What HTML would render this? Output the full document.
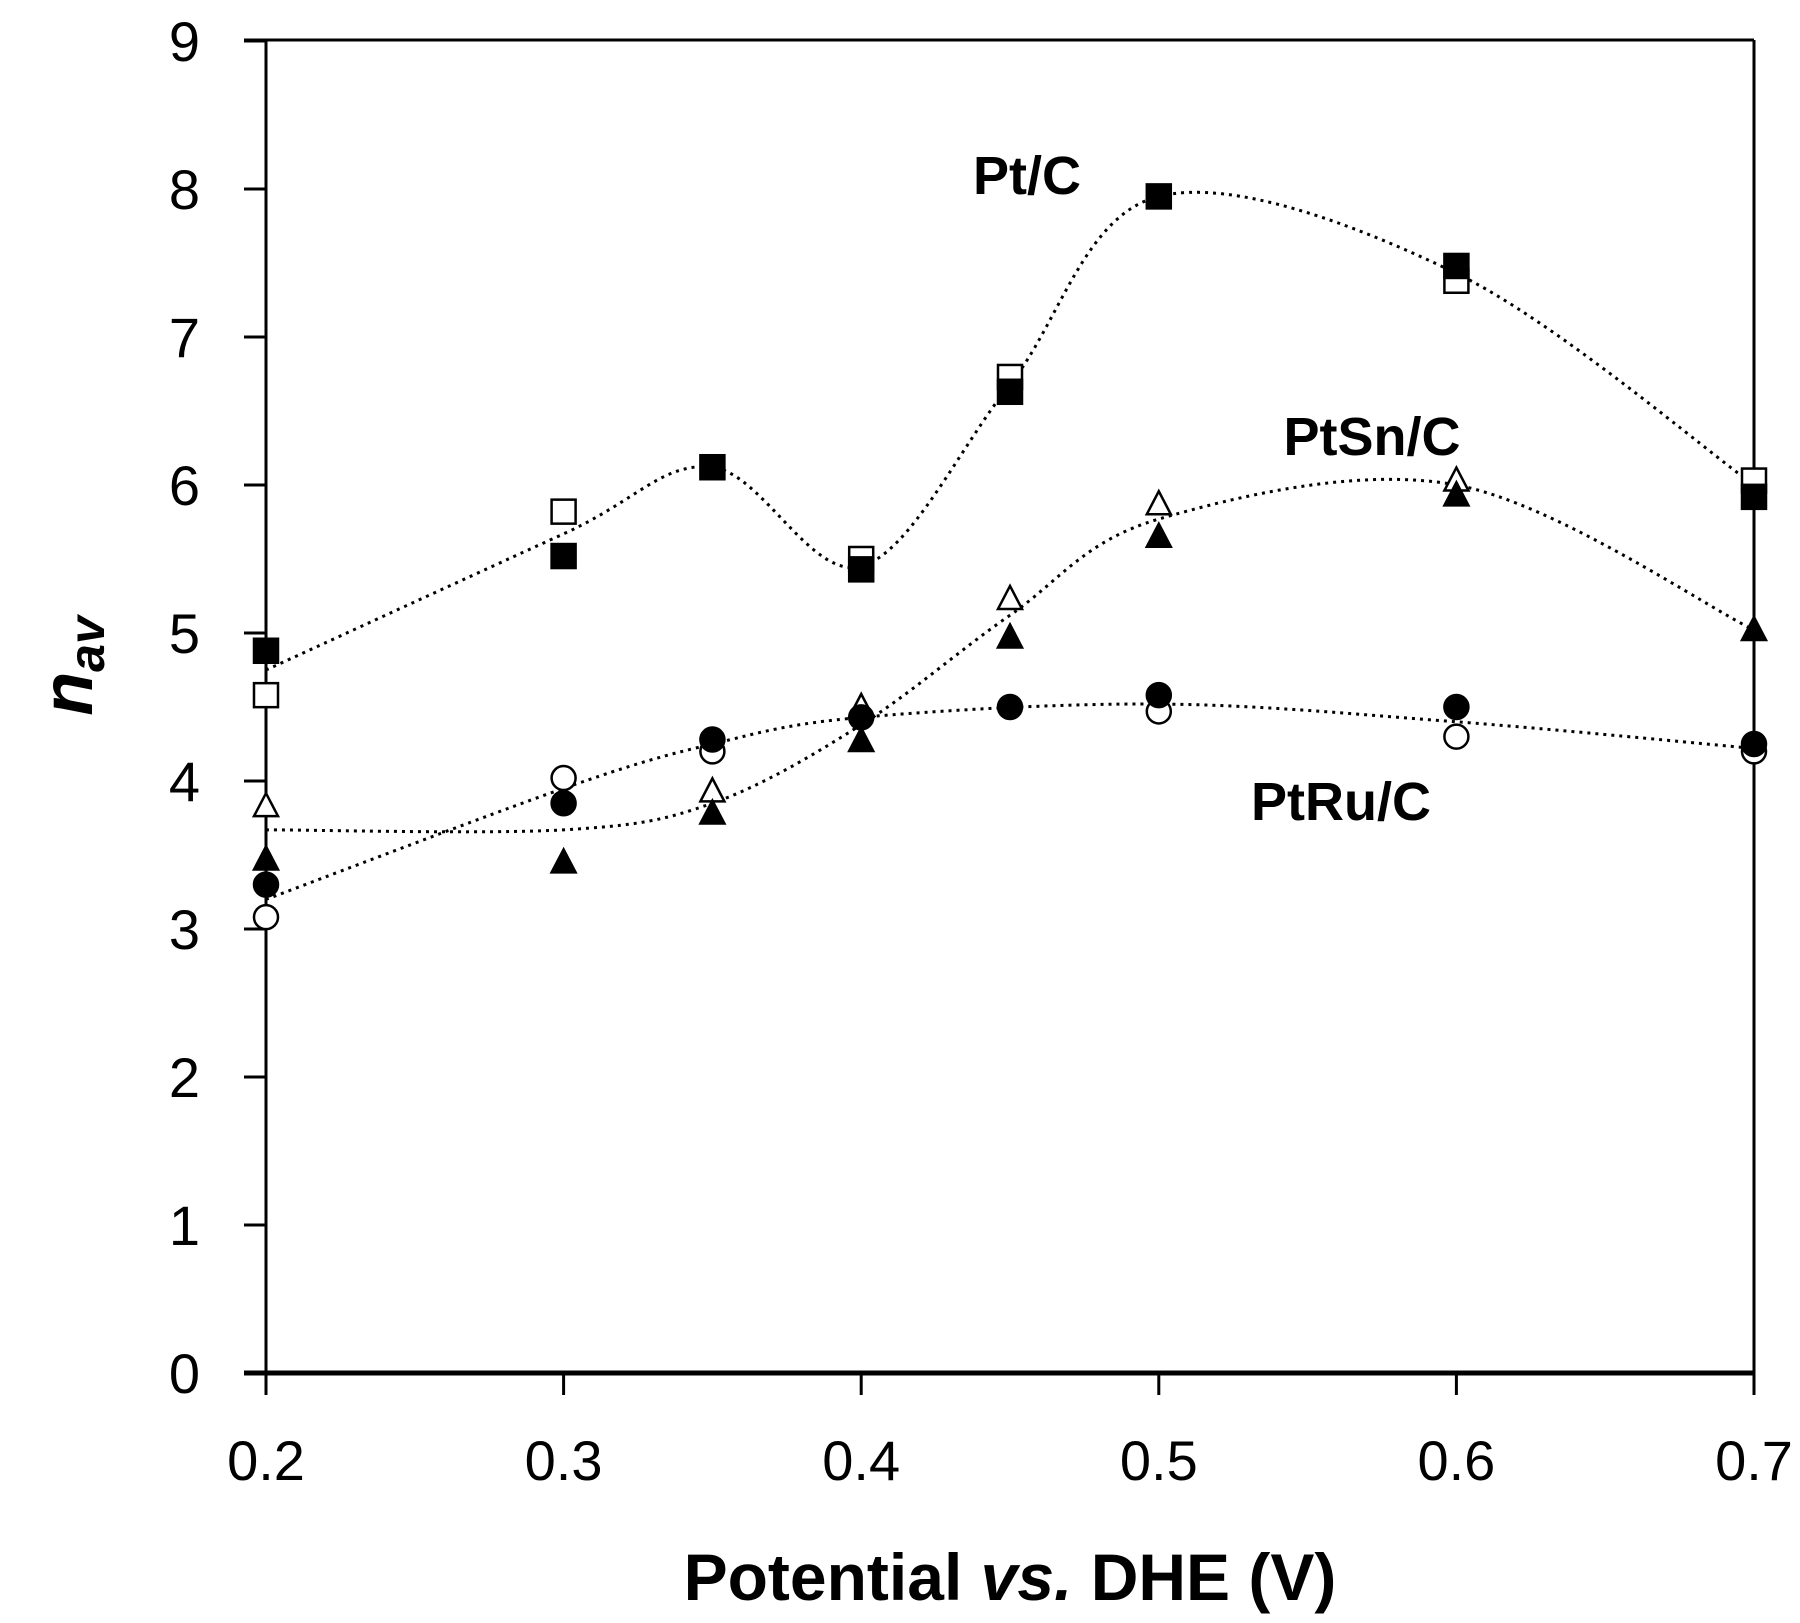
<!DOCTYPE html><html><head><style>body{margin:0;background:#fff}svg{display:block}text{font-family:"Liberation Sans",sans-serif}</style></head><body>
<svg id="s" width="1800" height="1623" viewBox="0 0 1800 1623" xmlns="http://www.w3.org/2000/svg">
<g stroke="#000" stroke-width="3" fill="none">
<line x1="266" y1="40" x2="266" y2="1373"/>
<line x1="1754" y1="40" x2="1754" y2="1395"/>
<line x1="244" y1="40" x2="1754" y2="40"/>
<line x1="244" y1="1373" x2="1754" y2="1373" stroke-width="5"/>
</g>
<g id="ticks" stroke="#000" stroke-width="3"></g>
<g font-size="56" text-anchor="end" id="yl"></g>
<g font-size="56" text-anchor="middle" id="xl"></g>
<text x="1010" y="1600" font-size="66" font-weight="bold" text-anchor="middle">Potential <tspan font-style="italic">vs.</tspan> DHE (V)</text>
<text transform="translate(92,666) rotate(-90)" font-size="72" font-weight="bold" font-style="italic" text-anchor="middle">n<tspan font-size="50" dy="12">av</tspan></text>
<g font-size="54" font-weight="bold" text-anchor="middle">
<text x="1027" y="194">Pt/C</text>
<text x="1372" y="455">PtSn/C</text>
<text x="1341" y="820">PtRu/C</text>
</g>
<g id="d"></g>
</svg>
<script>
var X=v=>266+(v-0.2)*2976, Y=v=>1373-v*148;
var t='',yl='',xl='';
for(var i=0;i<=9;i++){t+=`<line x1="244" y1="${Y(i)}" x2="266" y2="${Y(i)}"/>`;yl+=`<text x="200" y="${Y(i)+20}">${i}</text>`;}
[0.2,0.3,0.4,0.5,0.6,0.7].forEach(v=>{t+=`<line x1="${X(v)}" y1="1373" x2="${X(v)}" y2="1395"/>`;xl+=`<text x="${X(v)}" y="1480">${v}</text>`;});
ticks.innerHTML=t;document.getElementById('yl').innerHTML=yl;document.getElementById('xl').innerHTML=xl;
function curve(p){p=p.map(a=>[X(a[0]),Y(a[1])]);var s=`M${p[0][0]},${p[0][1]}`;
for(var i=0;i<p.length-1;i++){var p0=p[i-1]||p[i],p1=p[i],p2=p[i+1],p3=p[i+2]||p2;
s+=`C${p1[0]+(p2[0]-p0[0])/6},${p1[1]+(p2[1]-p0[1])/6} ${p2[0]-(p3[0]-p1[0])/6},${p2[1]-(p3[1]-p1[1])/6} ${p2[0]},${p2[1]}`;}
return `<path d="${s}" fill="none" stroke="#000" stroke-width="3" stroke-dasharray="3,5"/>`;}
var h='';
h+=curve([[0.2,4.75],[0.3,5.67],[0.35,6.12],[0.4,5.45],[0.45,6.68],[0.5,7.95],[0.6,7.43],[0.7,6.0]]);
h+=curve([[0.2,3.67],[0.3,3.67],[0.35,3.85],[0.4,4.38],[0.45,5.12],[0.5,5.77],[0.6,6.0],[0.7,5.02]]);
h+=curve([[0.2,3.2],[0.3,3.95],[0.35,4.25],[0.4,4.43],[0.5,4.52],[0.6,4.4],[0.7,4.22]]);
function sq(x,y,f){x=X(x);y=Y(y);return `<rect x="${x-12}" y="${y-12}" width="24" height="24" fill="${f?'#000':'#fff'}" stroke="#000" stroke-width="2.5"/>`;}
function tr(x,y,f){x=X(x);y=Y(y);return `<polygon points="${x},${y-13} ${x-12},${y+10} ${x+12},${y+10}" fill="${f?'#000':'#fff'}" stroke="#000" stroke-width="2.5"/>`;}
function ci(x,y,f){x=X(x);y=Y(y);return `<circle cx="${x}" cy="${y}" r="12" fill="${f?'#000':'#fff'}" stroke="#000" stroke-width="2.5"/>`;}
[[0.2,4.58],[0.3,5.82],[0.4,5.5],[0.45,6.73],[0.6,7.38],[0.7,6.03]].forEach(a=>h+=sq(a[0],a[1],0));
[[0.2,4.88],[0.3,5.52],[0.35,6.12],[0.4,5.43],[0.45,6.63],[0.5,7.95],[0.6,7.48],[0.7,5.92]].forEach(a=>h+=sq(a[0],a[1],1));
[[0.2,3.83],[0.35,3.93],[0.4,4.5],[0.45,5.23],[0.5,5.87],[0.6,6.03]].forEach(a=>h+=tr(a[0],a[1],0));
[[0.2,3.47],[0.3,3.45],[0.35,3.78],[0.4,4.27],[0.45,4.97],[0.5,5.65],[0.6,5.93],[0.7,5.02]].forEach(a=>h+=tr(a[0],a[1],1));
[[0.2,3.08],[0.3,4.02],[0.35,4.2],[0.5,4.47],[0.6,4.3],[0.7,4.2]].forEach(a=>h+=ci(a[0],a[1],0));
[[0.2,3.3],[0.3,3.85],[0.35,4.28],[0.4,4.43],[0.45,4.5],[0.5,4.58],[0.6,4.5],[0.7,4.25]].forEach(a=>h+=ci(a[0],a[1],1));
d.innerHTML=h;
</script>
</body></html>
